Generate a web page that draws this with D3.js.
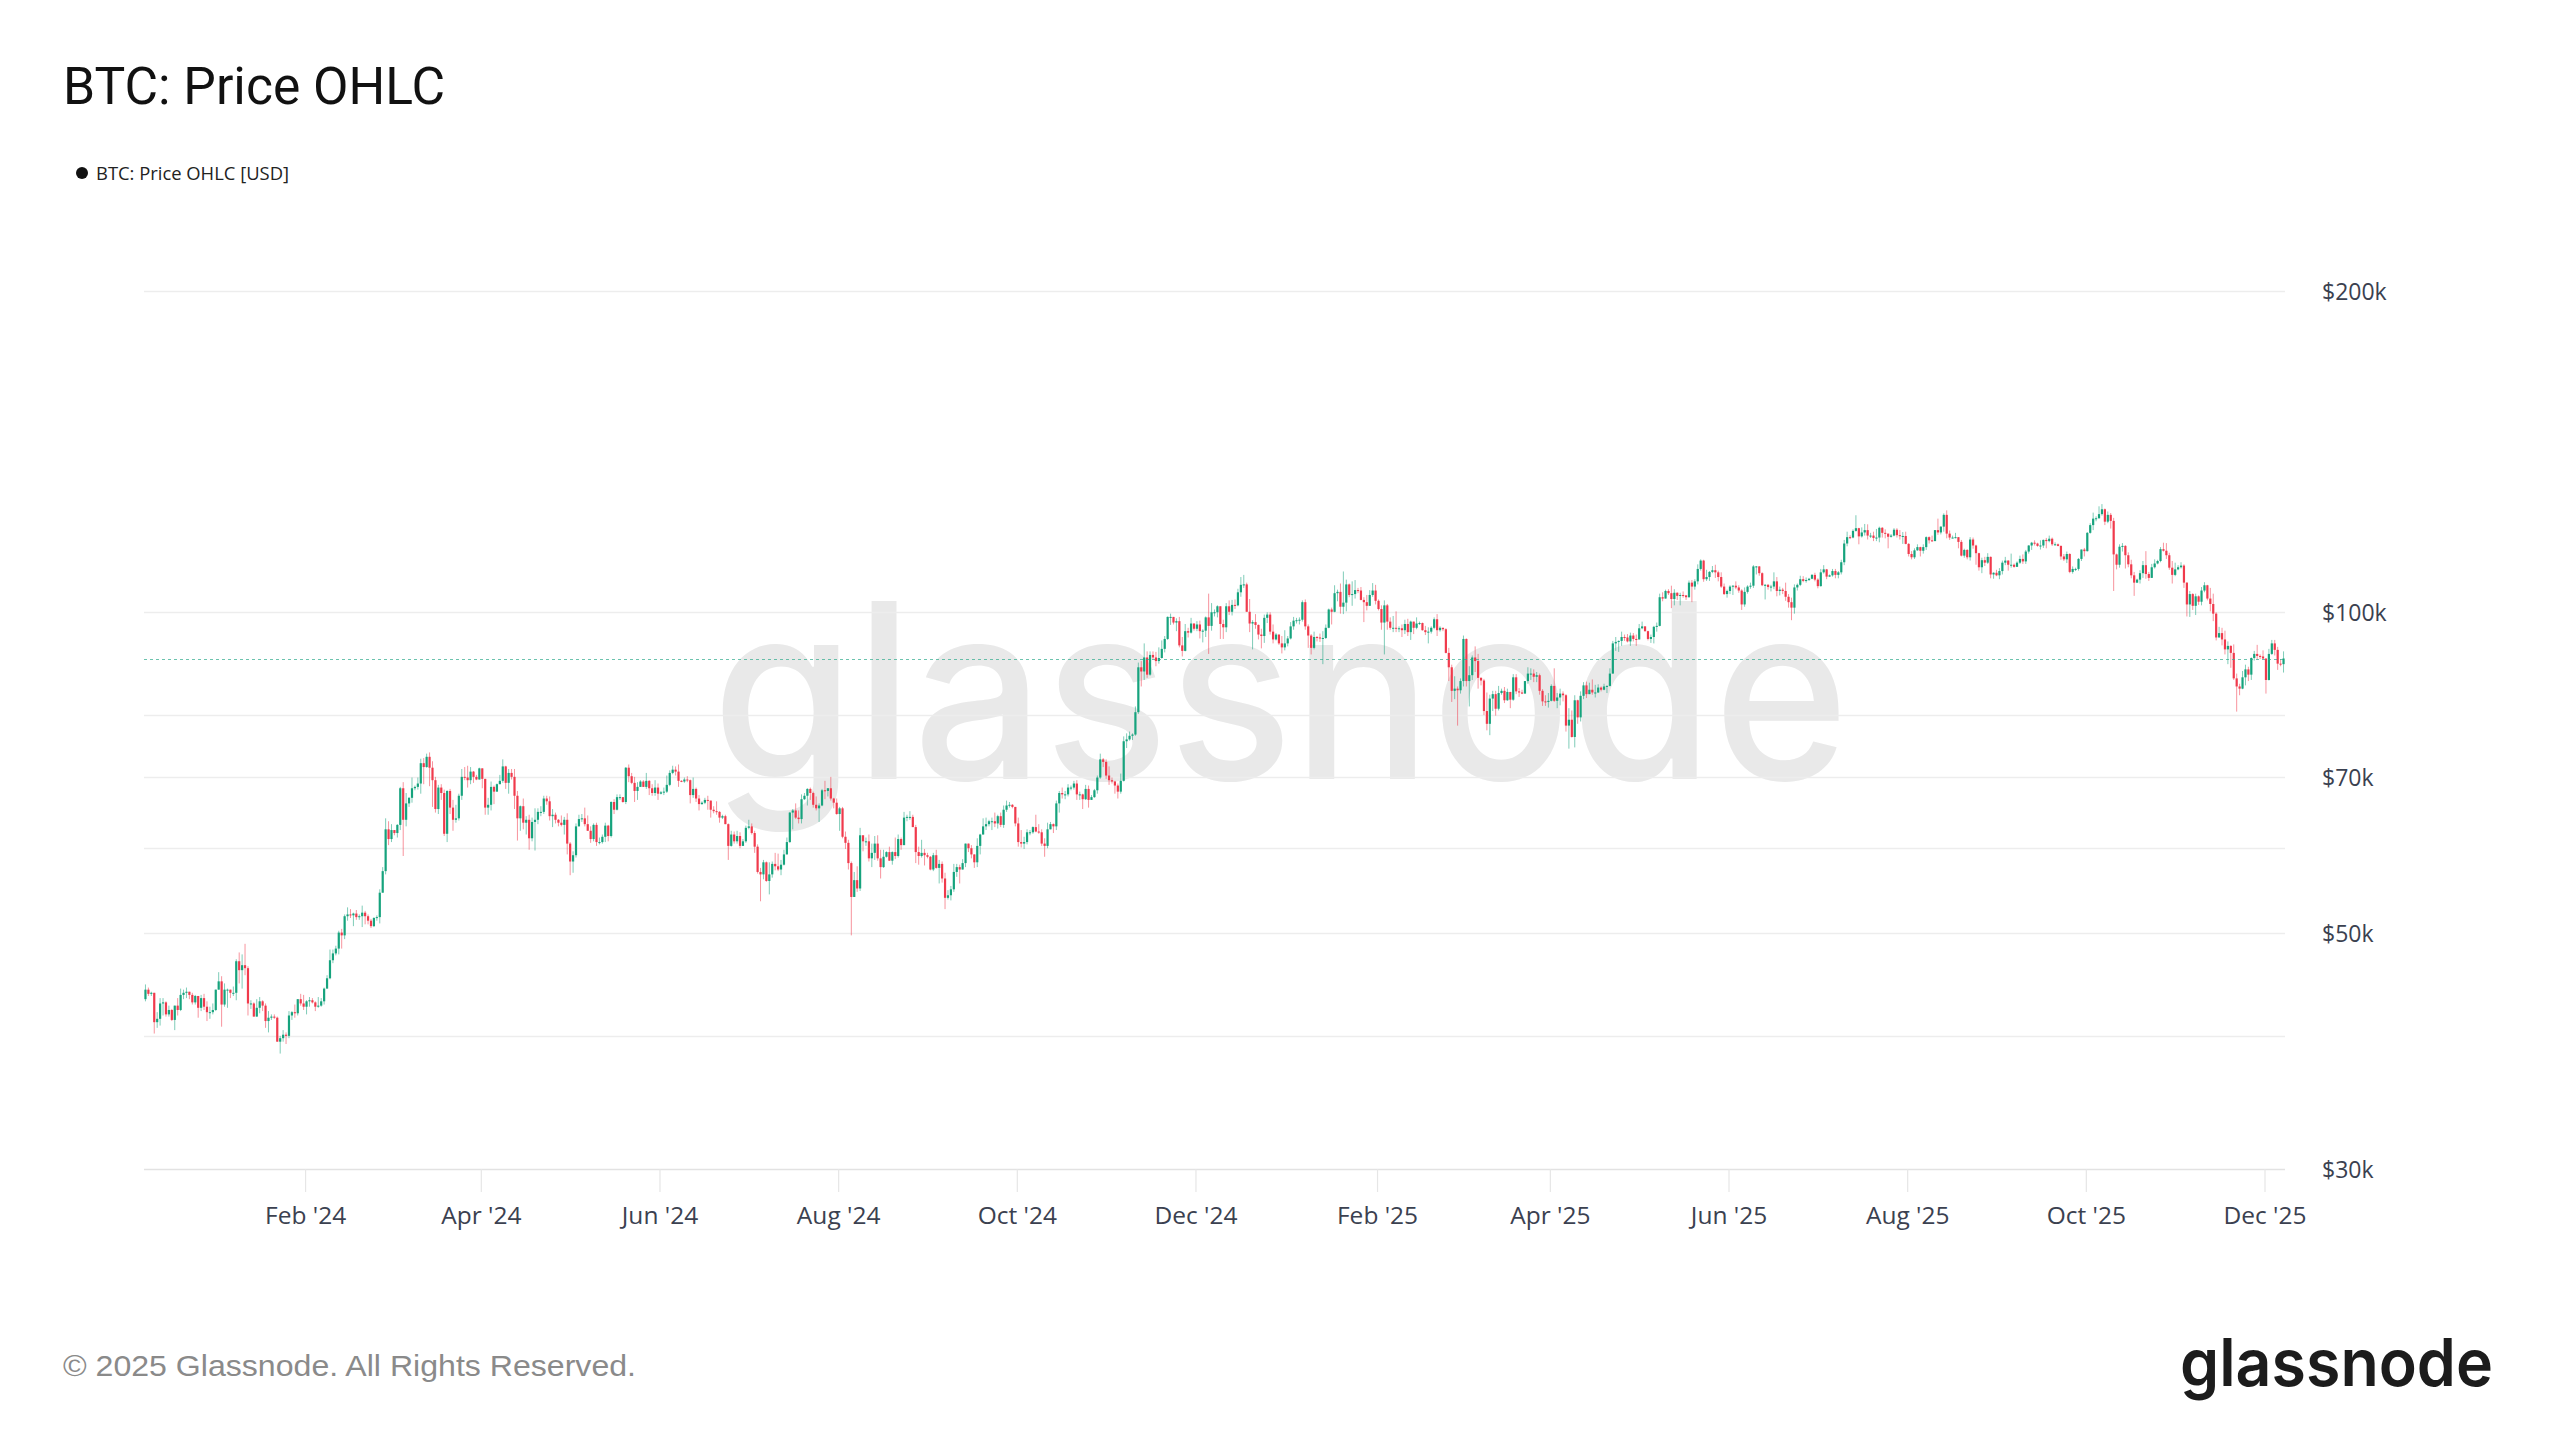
<!DOCTYPE html>
<html>
<head>
<meta charset="utf-8">
<script src="https://cdn.jsdelivr.net/npm/d3@7/dist/d3.min.js"></script>
<style>
  html, body { margin: 0; padding: 0; background: #ffffff; }
  svg { display: block; }
</style>
</head>
<body>
<svg id="chart" width="2560" height="1440"></svg>
<script>
// ---------------- DATA (USD thousands, daily candles; open = previous close) ----------------
const titleText = "BTC: Price OHLC";
const legendText = "BTC: Price OHLC [USD]";
const firstOpenK = 43.3;
const monthStarts = ["2023-12-08","2024-01-01","2024-02-01","2024-03-01","2024-04-01","2024-05-01","2024-06-01",
  "2024-07-01","2024-08-01","2024-09-01","2024-10-01","2024-11-01","2024-12-01","2025-01-01","2025-02-01",
  "2025-03-01","2025-04-01","2025-05-01","2025-06-01","2025-07-01","2025-08-01","2025-09-01","2025-10-01",
  "2025-11-01","2025-12-01"];
const closeK = [
 [44.2,43.8,43.9,41.2,41.5,42.9,43.0,41.9,42.3,41.4,42.7,42.3,43.7,43.9,44.0,43.7,43.0,43.6,42.5,43.4,42.6,42.1,42.1,42.3],
 [44.2,45.0,42.8,44.2,44.2,43.9,43.9,47.0,46.1,46.6,46.3,42.9,42.9,41.7,42.5,43.1,42.7,41.3,41.6,41.7,41.6,39.5,39.8,40.1,40.0,41.8,42.1,42.0,43.3,42.9,42.6],
 [43.1,43.2,43.0,42.6,42.7,43.1,44.3,45.3,47.1,47.8,48.3,50.0,49.7,51.8,52.0,51.9,52.1,51.7,51.8,52.2,51.8,51.3,50.7,51.6,51.7,54.5,57.1,62.5,61.2],
 [62.4,62.0,63.1,68.3,63.8,66.1,66.9,68.3,68.5,69.0,72.1,71.5,73.1,71.4,69.5,65.3,68.4,67.6,61.9,67.9,65.5,63.8,64.0,67.2,70.0,69.9,69.5,70.8,70.0,69.6,71.3],
 [69.7,65.5,65.9,68.5,67.8,68.9,69.4,71.6,69.1,70.6,70.0,67.2,64.0,65.7,63.4,63.8,61.3,63.5,63.8,64.9,64.9,66.8,66.4,64.3,64.5,63.8,63.4,63.1,63.8,60.6],
 [58.3,59.1,62.9,63.9,64.0,63.2,62.3,61.2,63.1,60.8,60.8,61.5,63.0,61.6,66.3,65.2,67.0,67.0,66.3,71.4,70.1,69.1,67.9,68.5,69.3,68.5,69.4,68.3,67.6,68.4,67.5],
 [67.7,67.8,68.8,70.6,71.1,70.8,69.4,69.3,69.6,69.5,67.3,68.2,66.8,66.0,66.2,66.6,66.5,65.2,65.0,64.9,64.1,64.3,63.2,60.3,61.8,60.9,61.6,60.3,60.9,62.7],
 [62.9,62.0,60.2,57.0,56.7,58.2,55.9,56.7,58.0,57.7,57.3,57.9,59.2,60.8,64.8,65.1,64.1,63.9,66.7,67.2,68.2,67.6,65.9,65.4,65.8,68.0,67.9,68.3,66.8,66.2,64.6],
 [65.4,61.5,60.7,58.1,54.0,56.0,55.0,61.7,60.9,60.9,58.7,59.4,60.6,58.7,57.6,58.9,59.5,58.4,59.5,59.0,61.2,60.4,64.1,64.2,64.2,62.8,59.5,59.0,59.4,59.1,58.9],
 [57.3,59.1,57.5,58.0,56.2,53.9,54.2,54.9,57.0,57.6,57.3,58.1,60.6,60.0,59.2,58.2,60.3,61.8,62.9,63.2,63.6,63.6,63.3,64.3,63.1,65.2,65.8,65.9,65.6,63.3],
 [60.8,60.6,60.8,62.1,62.1,62.8,62.2,62.1,60.6,60.3,62.5,63.2,62.9,66.1,67.6,67.4,67.4,68.4,68.4,69.0,67.4,67.4,66.7,68.2,66.6,67.0,68.0,69.9,72.7,72.3,70.2],
 [69.5,69.3,68.7,67.8,69.4,75.6,75.9,76.5,76.7,80.5,88.7,87.9,90.6,87.3,91.1,90.6,89.9,90.5,92.3,94.3,98.9,98.9,97.7,98.0,93.0,91.9,95.9,95.6,97.5,96.4],
 [97.3,95.9,96.0,98.8,97.0,99.9,99.9,101.2,97.4,96.7,101.2,100.0,101.5,101.4,104.3,106.0,106.1,100.0,97.5,97.8,97.2,95.2,94.9,98.7,99.4,95.8,94.2,95.2,93.4,92.6,93.4],
 [94.4,96.9,98.1,98.2,98.3,102.1,96.9,95.0,92.5,94.7,94.6,94.5,94.5,96.6,100.5,100.0,104.1,104.4,101.1,102.0,106.1,103.7,103.9,104.8,104.7,102.6,102.1,101.3,103.7,104.7,102.4],
 [100.6,97.7,101.4,97.9,96.6,96.6,96.5,96.5,96.1,97.4,95.7,97.9,96.6,97.5,97.6,96.1,95.7,95.8,96.6,98.4,96.1,96.6,96.3,91.5,88.7,84.3,84.7,84.4],
 [86.1,94.3,86.1,87.2,90.6,89.9,86.7,86.2,80.7,78.5,82.9,83.7,81.1,83.9,84.3,82.6,84.1,82.7,86.8,84.2,84.0,83.8,86.1,87.5,87.5,86.9,87.2,84.3,82.4,82.3,82.5],
 [85.2,82.5,83.1,83.8,83.5,78.2,79.2,76.3,82.6,79.6,83.4,85.3,83.7,84.5,84.0,84.0,84.9,84.5,85.1,85.2,87.5,93.4,93.7,93.9,94.7,94.6,93.8,95.0,94.3,94.2],
 [96.5,96.9,95.9,94.3,94.7,96.8,97.0,103.2,102.9,104.6,104.1,102.8,104.2,103.5,103.7,103.6,103.2,106.5,105.6,106.8,109.7,111.7,107.3,107.8,109.0,109.4,108.9,107.8,105.6,103.9,104.6],
 [105.6,105.8,105.4,104.7,101.6,104.4,105.6,105.8,110.3,110.3,108.7,105.9,106.0,105.5,105.6,106.8,104.6,104.9,104.6,103.3,102.1,100.9,105.4,106.0,107.3,106.9,107.1,107.4,108.3,107.2],
 [105.7,108.9,109.6,107.9,108.2,109.2,108.3,108.9,111.3,115.9,117.5,117.4,119.1,119.8,117.7,118.7,119.3,117.9,117.9,117.3,117.4,119.9,118.6,118.4,117.6,117.9,119.4,118.0,117.8,117.8,115.8],
 [113.3,112.5,114.2,115.0,114.1,115.0,117.5,116.7,116.5,119.3,118.7,120.2,123.3,118.4,117.4,117.4,117.5,116.3,112.9,114.3,112.5,116.9,115.4,113.5,110.1,111.8,111.2,112.6,108.4,108.8,108.2],
 [109.2,111.2,111.7,110.7,110.7,110.2,111.2,112.1,111.5,113.9,115.4,116.1,115.9,115.3,115.4,116.8,116.5,117.1,115.7,115.7,115.3,112.7,112.0,113.3,109.0,109.7,109.7,112.1,114.4,114.0],
 [118.6,120.6,122.3,122.4,123.5,124.8,121.5,123.3,121.7,113.2,110.7,115.1,115.3,113.0,110.8,108.2,106.5,107.2,108.7,110.6,108.5,107.6,110.1,111.0,111.6,114.5,114.1,113.0,110.0,108.3,109.6],
 [110.1,110.5,106.5,101.6,103.9,101.3,103.4,102.2,104.7,105.9,102.9,101.7,99.6,94.6,95.5,94.2,92.2,92.9,91.5,86.6,85.1,84.7,86.8,88.3,87.3,90.5,91.3,90.9,90.8,90.4],
 [86.3,91.3,93.4,92.1,89.4,89.3,90.4]
];
const highK = [
 [44.7,44.4,44.0,43.9,42.1,43.4,43.4,43.1,42.7,42.4,42.7,43.4,44.3,44.2,44.4,44.0,43.9,43.7,43.6,43.7,43.8,43.1,42.6,42.9],
 [44.2,45.9,45.5,44.8,44.3,44.2,44.5,47.2,47.9,47.7,48.8,46.5,43.2,43.0,43.3,43.5,43.2,42.9,42.2,41.9,41.9,41.7,40.0,40.5,40.3,42.2,42.2,42.8,43.3,43.8,43.7],
 [43.2,43.5,43.4,43.1,43.5,43.4,44.4,45.6,48.2,48.2,48.6,50.2,50.4,52.0,52.8,52.6,52.2,52.5,52.0,53.0,52.4,52.0,51.5,51.7,51.9,54.9,57.6,64.0,63.6],
 [63.2,62.4,63.2,68.5,69.2,67.6,67.0,69.9,68.7,69.9,72.8,72.9,73.6,73.8,72.4,70.0,68.8,68.9,68.1,68.0,68.2,66.6,65.9,67.5,71.2,71.5,71.7,71.5,70.9,70.3,71.4],
 [71.3,69.7,66.9,69.3,68.7,69.0,70.3,72.7,71.7,71.2,71.2,71.2,67.9,65.8,66.8,64.3,64.5,64.1,65.4,65.4,65.7,67.2,67.2,67.1,65.3,64.8,63.9,64.4,64.2,64.7],
 [60.8,59.6,63.3,64.5,64.6,65.5,64.4,62.9,63.3,63.4,61.4,61.8,63.4,63.1,66.4,66.7,67.4,67.4,67.0,71.5,71.9,70.6,70.0,69.2,69.5,69.5,70.6,69.5,68.9,69.5,69.0],
 [67.9,68.4,70.2,71.0,71.7,71.6,71.9,69.5,69.9,70.1,69.6,69.9,68.4,67.3,66.4,66.9,67.2,66.5,65.7,66.4,65.0,64.5,64.5,63.3,62.3,62.2,62.3,62.1,61.2,63.0],
 [63.8,63.3,62.3,60.5,57.5,58.5,58.3,58.2,58.3,59.4,59.3,58.5,59.8,61.4,64.9,65.3,66.1,65.1,67.4,67.6,68.3,68.4,67.8,67.1,66.1,68.2,69.4,68.3,70.0,66.9,66.8],
 [65.6,65.6,62.2,61.1,58.3,57.0,57.7,62.7,61.7,61.4,61.8,60.6,61.6,61.7,59.8,59.8,59.6,60.2,59.6,61.4,61.8,61.4,64.9,64.5,65.0,64.5,63.1,60.2,61.1,59.9,59.4],
 [59.0,59.4,59.8,58.5,58.3,56.9,54.8,55.3,58.0,58.0,57.9,58.6,60.6,60.6,60.4,59.2,61.3,61.9,64.0,64.1,63.8,64.1,64.8,64.5,64.8,65.8,66.5,66.3,66.0,65.6],
 [64.1,62.4,61.5,62.5,62.4,62.9,64.5,63.2,62.5,61.3,63.4,63.5,63.3,66.5,67.9,68.4,67.9,68.9,68.7,69.4,69.5,67.8,67.5,68.8,68.7,67.3,68.2,70.2,73.6,72.9,72.7],
 [71.6,69.9,69.4,69.0,70.5,76.4,76.9,77.2,76.9,81.5,89.6,89.9,93.4,91.8,91.8,91.8,91.7,92.6,94.0,94.9,99.0,99.6,98.8,98.6,98.9,94.7,97.4,96.6,98.7,97.5],
 [98.0,98.1,96.3,99.0,104.0,101.9,100.5,101.4,101.2,98.3,101.9,102.5,102.6,102.7,105.1,107.8,108.3,106.5,102.8,98.2,99.5,97.3,96.4,99.4,99.9,99.9,97.3,95.5,95.2,94.9,96.1],
 [94.9,97.8,98.9,98.7,98.8,102.5,102.7,97.3,95.3,95.8,94.9,95.4,95.9,97.3,100.7,100.9,105.9,104.9,106.3,109.1,107.2,106.3,106.8,107.1,105.3,105.5,103.2,103.7,104.8,106.4,106.0],
 [102.7,101.4,102.5,101.7,98.8,99.1,100.1,96.9,97.3,98.3,98.5,98.1,97.9,98.8,97.9,97.7,97.0,96.7,96.9,98.8,99.5,96.9,96.6,96.5,92.5,89.2,87.0,85.1],
 [86.6,95.0,94.4,88.9,91.0,92.8,91.3,86.8,86.5,84.0,83.6,84.3,84.3,85.2,84.7,85.0,84.7,84.0,87.4,87.4,84.8,84.5,86.1,88.7,88.5,88.3,87.8,87.5,84.6,83.5,83.9],
 [85.5,88.5,83.9,84.7,84.2,83.7,81.2,80.8,83.5,82.7,84.2,85.9,86.0,85.8,86.4,85.4,85.5,85.1,85.6,85.3,88.5,93.9,94.7,94.0,95.8,95.2,95.3,95.6,95.5,95.2],
 [97.4,97.9,96.9,96.0,95.2,97.0,97.7,104.0,104.3,104.9,105.0,105.8,105.0,104.3,104.2,104.5,103.7,107.0,107.1,107.3,110.8,112.0,111.9,109.5,109.2,110.4,110.7,109.3,108.9,106.3,104.9],
 [105.9,105.9,106.8,105.9,105.0,105.4,105.9,106.5,110.6,110.4,110.4,108.9,106.2,106.2,106.0,108.9,107.8,105.6,105.3,106.5,103.9,103.1,106.1,106.3,108.1,108.0,107.7,107.6,108.5,108.8],
 [107.5,109.7,110.6,109.7,108.4,109.7,109.7,109.2,111.9,116.8,118.9,118.0,119.5,123.2,119.9,120.0,120.9,120.8,118.6,118.9,119.6,120.2,120.1,119.5,118.3,118.3,119.8,119.8,119.3,118.8,118.9],
 [116.0,114.0,114.7,115.7,115.1,115.7,117.7,117.7,117.9,119.3,122.3,120.3,123.7,124.5,119.2,117.9,118.6,117.5,116.8,114.6,114.5,117.5,117.4,115.6,113.6,112.4,112.6,113.5,112.7,108.9,109.5],
 [109.9,111.7,112.6,111.8,113.4,111.0,111.5,112.9,113.2,114.3,115.5,116.3,116.7,116.1,116.7,116.9,117.3,117.9,117.4,116.2,115.9,115.4,113.3,113.9,113.5,110.3,110.0,112.3,114.4,114.8],
 [118.8,121.1,123.9,122.9,125.6,126.2,125.0,124.2,123.8,122.5,113.4,115.7,116.0,115.5,113.7,111.9,109.0,107.4,109.4,111.6,114.0,109.0,110.9,112.0,111.9,115.0,116.1,116.0,113.6,111.6,111.2],
 [110.6,111.3,110.8,106.6,104.6,104.1,104.0,103.6,105.5,106.6,106.0,105.3,104.0,99.9,96.8,96.6,96.0,93.8,93.0,93.2,87.5,85.6,88.0,89.2,88.8,90.6,91.9,93.1,91.2,92.0],
 [90.4,92.3,94.1,94.1,92.7,90.3,91.8]
];
const lowK = [
 [43.1,43.6,43.6,40.2,40.7,40.9,41.8,41.7,41.7,41.3,40.5,41.8,42.2,43.3,43.4,43.3,42.8,42.8,41.6,42.2,42.3,41.3,41.5,41.9],
 [42.2,44.2,40.8,42.6,42.5,43.4,43.6,43.2,44.8,44.3,45.6,41.8,42.4,41.7,41.7,42.0,42.2,40.7,40.3,41.4,41.5,39.5,38.5,39.5,39.3,39.8,41.4,41.6,41.8,42.7,42.3],
 [41.9,42.6,42.9,42.2,42.5,42.6,42.8,44.3,45.2,46.8,47.6,47.7,48.3,49.3,51.3,51.6,50.7,51.4,51.4,50.6,50.9,50.9,50.5,50.6,51.3,51.0,54.5,56.7,60.4],
 [60.8,61.7,61.4,62.4,59.0,62.9,65.6,66.2,68.0,68.1,67.5,68.9,71.4,68.6,65.6,64.8,64.6,66.6,61.6,60.8,64.6,62.3,63.4,63.7,66.6,69.5,68.4,68.9,69.1,69.5,69.6],
 [68.3,64.5,64.5,65.1,66.0,67.8,68.9,69.1,68.2,67.5,69.6,65.3,61.0,62.3,62.5,61.8,59.8,60.9,59.7,63.2,64.3,64.6,65.9,63.7,62.8,63.3,62.9,62.9,61.8,59.2],
 [56.6,56.9,58.8,62.9,63.5,62.9,62.3,60.7,60.9,60.3,60.5,60.6,60.8,60.9,61.4,64.6,65.1,66.6,66.2,66.0,69.2,68.9,66.3,66.6,68.5,68.5,68.2,67.3,67.2,67.2,66.6],
 [67.4,67.3,67.6,68.6,70.4,70.2,68.5,69.2,69.1,69.2,66.1,66.9,66.3,65.1,65.9,66.0,65.2,64.1,64.7,64.5,63.4,63.9,63.2,58.5,60.2,60.6,60.6,60.0,60.3,60.7],
 [62.5,61.8,59.4,56.8,53.5,56.1,55.8,54.3,56.3,57.2,57.1,56.6,57.8,59.4,60.7,62.5,63.9,63.3,63.3,66.6,65.8,66.6,65.5,65.1,63.5,65.7,66.7,67.1,66.5,65.4,64.5],
 [62.3,61.3,59.9,57.3,49.7,54.0,54.6,54.7,59.6,60.3,58.3,57.6,58.5,58.4,56.2,57.5,58.8,58.4,57.9,58.6,58.8,59.8,60.4,63.6,63.8,62.8,58.1,57.9,58.8,57.8,58.7],
 [57.2,57.1,57.4,55.6,55.7,52.6,53.7,53.6,54.6,56.4,55.6,57.3,57.6,59.5,58.7,57.5,57.6,59.2,61.8,62.4,62.9,62.4,62.8,62.6,62.8,62.7,64.9,65.5,65.4,62.9],
 [60.2,60.1,59.9,60.5,61.7,61.9,62.1,61.9,60.3,58.9,60.0,62.5,62.0,62.4,64.8,66.8,66.7,67.1,68.0,68.1,66.6,66.6,65.3,66.6,65.5,66.7,66.9,67.5,69.7,71.5,69.7],
 [68.8,69.0,67.5,66.8,67.5,69.3,74.5,75.7,75.8,76.5,80.2,85.1,86.3,86.7,87.1,90.2,88.9,89.4,90.4,91.6,94.1,97.2,97.3,95.9,92.6,90.8,91.8,94.6,95.4,96.0],
 [95.9,94.4,93.6,94.7,91.3,96.0,99.0,98.8,94.3,94.3,95.7,99.3,99.2,100.6,101.2,103.3,105.3,100.0,95.7,92.2,96.4,94.2,92.4,93.5,97.6,95.2,93.4,94.0,93.1,91.4,92.0],
 [92.8,94.2,96.2,97.5,97.3,97.9,96.2,92.5,91.2,92.2,93.8,93.7,89.3,94.3,96.5,97.3,99.9,102.3,99.6,99.5,100.1,103.2,101.3,102.9,104.1,102.5,97.8,100.3,101.4,103.3,101.6],
 [100.3,96.2,91.2,96.2,96.2,95.7,95.7,95.7,94.7,95.3,94.9,94.1,95.3,96.3,97.2,96.0,95.1,93.4,95.4,96.3,94.9,95.8,95.9,91.4,86.1,82.3,82.8,78.2],
 [83.8,85.1,85.1,81.5,86.3,87.8,84.7,85.3,80.0,77.4,76.6,80.7,79.9,80.8,83.6,82.1,82.5,81.2,82.5,83.7,83.2,83.7,83.8,85.6,86.3,85.9,85.9,83.6,81.6,81.6,81.3],
 [82.4,82.3,81.2,81.7,82.4,77.2,74.4,76.2,74.6,78.5,78.9,82.8,83.0,83.7,83.6,83.1,83.9,84.2,84.4,83.9,85.1,87.6,91.9,91.7,92.9,93.9,93.6,92.9,93.8,92.9],
 [94.2,96.3,95.8,94.0,93.5,93.4,95.8,96.9,102.3,102.9,103.7,100.8,101.4,102.6,101.4,103.1,102.6,103.1,102.1,104.9,106.1,109.3,106.7,106.9,106.9,108.7,107.6,106.8,105.3,103.7,103.1],
 [103.9,103.7,105.0,104.2,100.4,101.1,104.0,105.1,105.3,108.4,108.1,105.7,102.7,104.9,104.5,105.0,103.4,103.6,103.9,102.4,100.9,98.2,99.6,104.7,105.7,106.6,106.5,106.9,107.3,106.8],
 [105.2,105.6,108.6,107.3,107.8,107.9,107.5,107.5,108.4,110.6,115.2,117.0,117.2,118.9,115.7,117.4,117.9,116.9,117.3,116.5,116.5,116.2,117.4,117.2,114.7,117.4,117.7,117.4,116.9,115.8,115.7],
 [112.7,112.0,112.1,114.1,112.7,113.4,114.3,115.9,116.3,116.6,118.1,118.2,118.9,117.2,116.8,117.2,117.2,114.7,112.7,112.4,112.0,111.7,114.6,110.7,109.3,108.7,110.4,110.9,107.5,107.4,108.0],
 [107.3,108.4,110.6,109.3,110.0,110.0,110.2,110.9,110.9,110.9,113.4,114.3,115.4,115.1,114.4,114.8,114.7,116.2,115.3,115.4,115.2,111.9,111.6,111.1,108.7,108.6,109.2,109.3,111.6,112.7],
 [113.9,118.4,119.3,121.6,122.3,123.1,120.6,121.1,119.7,104.6,109.6,110.0,113.9,109.8,110.1,107.5,103.5,106.4,106.3,107.6,107.4,106.9,107.6,109.8,110.8,111.3,113.9,112.1,109.5,106.3,108.0],
 [109.4,109.8,105.3,99.0,98.9,100.4,99.3,101.5,101.4,104.3,102.5,100.1,98.0,94.0,94.6,93.0,91.2,89.3,88.6,86.3,80.6,83.5,84.6,85.3,86.1,86.3,90.0,90.2,90.3,90.2],
 [83.8,86.2,91.1,91.0,88.2,88.9,87.7]
];
const yTickValues = [30000, 50000, 70000, 100000, 200000];
const yGridValues = [30000, 40000, 50000, 60000, 70000, 80000, 100000, 200000];
const xDomain = ["2023-12-08", "2025-12-08"];

// ---------------- BUILD ----------------
const candles = [];
let prevClose = firstOpenK;
monthStarts.forEach((ms, m) => {
  const start = new Date(ms + "T00:00:00Z");
  closeK[m].forEach((c, j) => {
    const d = d3.utcDay.offset(start, j);
    const o = prevClose;
    const h = Math.max(highK[m][j], o, c);
    const l = Math.min(lowK[m][j], o, c);
    candles.push({ date: d, open: o * 1000, close: c * 1000, high: h * 1000, low: l * 1000 });
    prevClose = c;
  });
});

const W = 2560, H = 1440;
const plot = { left: 144, right: 2285, top: 291, bottom: 1169 };
const svg = d3.select("#chart");
svg.append("rect").attr("width", W).attr("height", H).attr("fill", "#ffffff");

const x = d3.scaleUtc()
  .domain(xDomain.map(s => new Date(s + "T00:00:00Z")))
  .range([plot.left, plot.right]);
const y = d3.scaleLog().domain([30000, 200000]).range([plot.bottom, plot.top]);

// watermark
svg.append("text")
  .attr("x", 712).attr("y", 779)
  .attr("textLength", 1137).attr("lengthAdjust", "spacingAndGlyphs")
  .attr("font-family", "Inter, 'Noto Sans', sans-serif")
  .attr("font-weight", 500)
  .attr("font-size", 245)
  .attr("fill", "#e9e9e9")
  .text("glassnode");

// gridlines
svg.append("g").selectAll("line").data(yGridValues).join("line")
  .attr("x1", plot.left).attr("x2", plot.right)
  .attr("y1", d => Math.round(y(d)) + 0.5).attr("y2", d => Math.round(y(d)) + 0.5)
  .attr("stroke", d => d === 30000 ? "#e2e2e2" : "#ededed")
  .attr("stroke-width", 1.6);

// y labels
svg.append("g").selectAll("text").data(yTickValues).join("text")
  .attr("x", 2322).attr("y", d => y(d) + 1).attr("dy", "0.36em")
  .attr("font-family", "'Open Sans', sans-serif").attr("font-size", 23)
  .attr("fill", "#3b4150")
  .text(d => "$" + d3.format("d")(d / 1000) + "k");

// x axis
const xAxis = d3.axisBottom(x)
  .tickValues(d3.utcMonth.range(new Date("2024-02-01T00:00:00Z"), new Date("2025-12-02T00:00:00Z"), 2))
  .tickSize(23)
  .tickFormat(d3.utcFormat("%b '%y"));
const gx = svg.append("g").attr("transform", `translate(0,${plot.bottom})`).call(xAxis);
gx.select(".domain").remove();
gx.selectAll(".tick line").attr("stroke", "#e6e6e6").attr("stroke-width", 1.2);
gx.selectAll(".tick text")
  .attr("y", 46).attr("dy", "0.36em")
  .attr("font-family", "'Open Sans', sans-serif").attr("font-size", 24.5)
  .attr("fill", "#3b4150");

// candles
const defs = svg.append("defs");
defs.append("clipPath").attr("id", "plotclip").append("rect")
  .attr("x", plot.left).attr("y", plot.top - 20)
  .attr("width", plot.right - plot.left + 2).attr("height", plot.bottom - plot.top + 20);
const up = "#16a37d", down = "#f03a4c";
const dayW = x(d3.utcDay.offset(x.domain()[0], 1)) - x(x.domain()[0]);
const bodyW = Math.max(1.6, dayW * 0.75);
const cx = d => x(d.date) + dayW / 2;
const cg = svg.append("g").attr("clip-path", "url(#plotclip)");
cg.selectAll("line.wick").data(candles).join("line")
  .attr("class", "wick")
  .attr("x1", cx).attr("x2", cx)
  .attr("y1", d => y(d.high)).attr("y2", d => y(d.low))
  .attr("stroke", d => d.close >= d.open ? up : down)
  .attr("stroke-opacity", 0.55)
  .attr("stroke-width", 1);
cg.selectAll("rect.body").data(candles).join("rect")
  .attr("class", "body")
  .attr("x", d => cx(d) - bodyW / 2)
  .attr("width", bodyW)
  .attr("y", d => y(Math.max(d.open, d.close)))
  .attr("height", d => Math.max(1, Math.abs(y(d.open) - y(d.close))))
  .attr("fill", d => d.close >= d.open ? up : down);

// last price dashed line
const last = candles[candles.length - 1];
svg.append("line")
  .attr("x1", plot.left).attr("x2", plot.right)
  .attr("y1", Math.round(y(last.close)) + 0.5).attr("y2", Math.round(y(last.close)) + 0.5)
  .attr("stroke", "#2ea98c").attr("stroke-opacity", 0.7)
  .attr("stroke-width", 1.2).attr("stroke-dasharray", "3,3");

// title & legend
svg.append("text")
  .attr("x", 63).attr("y", 104)
  .attr("textLength", 382).attr("lengthAdjust", "spacingAndGlyphs")
  .attr("font-family", "Roboto, 'Noto Sans', sans-serif").attr("font-size", 51)
  .attr("fill", "#111111")
  .text(titleText);
svg.append("circle").attr("cx", 82).attr("cy", 173).attr("r", 6).attr("fill", "#111111");
svg.append("text")
  .attr("x", 96).attr("y", 180)
  .attr("textLength", 193).attr("lengthAdjust", "spacingAndGlyphs")
  .attr("font-family", "'Open Sans', sans-serif").attr("font-size", 19)
  .attr("fill", "#222222")
  .text(legendText);

// footer
svg.append("text")
  .attr("x", 63).attr("y", 1376)
  .attr("textLength", 573).attr("lengthAdjust", "spacingAndGlyphs")
  .attr("font-family", "'Liberation Sans', Arial, sans-serif").attr("font-size", 30)
  .attr("fill", "#8a8a8a")
  .text("© 2025 Glassnode. All Rights Reserved.");
svg.append("text")
  .attr("x", 2180).attr("y", 1386)
  .attr("textLength", 313).attr("lengthAdjust", "spacingAndGlyphs")
  .attr("font-family", "Inter, 'Noto Sans', sans-serif").attr("font-weight", 600)
  .attr("font-size", 66)
  .attr("fill", "#1c1c1c")
  .text("glassnode");
</script>
</body>
</html>
